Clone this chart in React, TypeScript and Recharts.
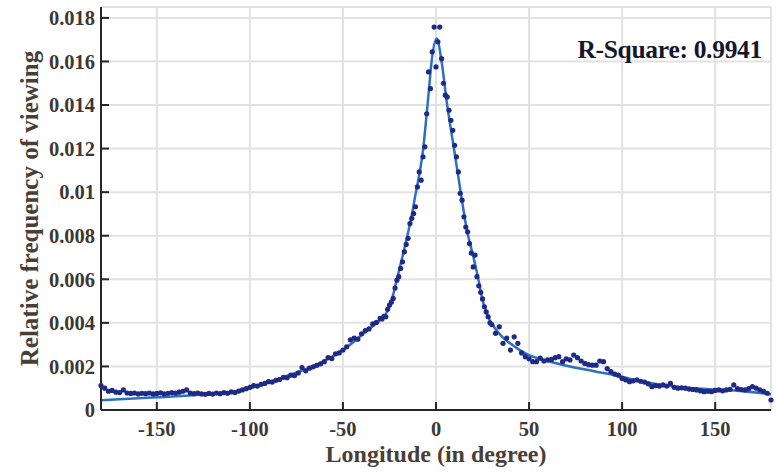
import React from 'react';
import { ComposedChart, Scatter, Line, XAxis, YAxis, CartesianGrid, Label } from 'recharts';

// Longitude bins: 2° in the tails, 1° around the front direction
const range = (start: number, end: number, step: number): number[] => {
  const out: number[] = [];
  for (let v = start; v <= end; v += step) out.push(v);
  return out;
};
const westLon = range(-180, -32, 2);
const coreLon = range(-30, 30, 1);
const eastLon = range(32, 180, 2);

// Measured relative frequency of viewing per bin
const westTail = [
  0.00112, 0.00100, 0.00086, 0.00090, 0.00082, 0.00080, 0.00092, 0.00078, 0.00076, 0.00078,
  0.00074, 0.00077, 0.00075, 0.00078, 0.00074, 0.00076, 0.00079, 0.00074, 0.00077, 0.00080,
  0.00078, 0.00082, 0.00086, 0.00092, 0.00078, 0.00075, 0.00078, 0.00074, 0.00072, 0.00076,
  0.00073, 0.00078, 0.00075, 0.00080, 0.00077, 0.00083, 0.00080, 0.00087, 0.00092, 0.00098,
  0.00104, 0.00112, 0.00110, 0.00118, 0.00122, 0.00130, 0.00128, 0.00136, 0.00140, 0.00150,
  0.00148, 0.00160, 0.00158, 0.00170, 0.00195, 0.00180, 0.00192, 0.00198, 0.00205, 0.00212,
  0.00222, 0.00240, 0.00236, 0.00258, 0.00262, 0.00275, 0.00290, 0.00322, 0.00330, 0.00325,
  0.00350, 0.00365, 0.00372, 0.00395, 0.00402,
];
const core = [
  0.00421, 0.00418, 0.00430, 0.00428, 0.00462, 0.00482, 0.00495, 0.00512, 0.00560, 0.00596,
  0.00612, 0.00650, 0.00680, 0.00726, 0.00760, 0.00788, 0.00856, 0.00880, 0.00902, 0.00933,
  0.01024, 0.01093, 0.01055, 0.01162, 0.01208, 0.01360, 0.01552, 0.01475, 0.01644, 0.01758,
  0.01575, 0.01690, 0.01758, 0.01613, 0.01500, 0.01445, 0.01437, 0.01376, 0.01330, 0.01284,
  0.01215, 0.01162, 0.01093, 0.00995, 0.00963, 0.00887, 0.00840, 0.00818, 0.00764, 0.00720,
  0.00657, 0.00711, 0.00612, 0.00570, 0.00540, 0.00510, 0.00474, 0.00450, 0.00428, 0.00400,
  0.00392,
];
const eastTail = [
  0.00352, 0.00382, 0.00306, 0.00330, 0.00275, 0.00336, 0.00306, 0.00262, 0.00245, 0.00235,
  0.00222, 0.00222, 0.00238, 0.00225, 0.00230, 0.00232, 0.00240, 0.00245, 0.00222, 0.00235,
  0.00230, 0.00252, 0.00240, 0.00225, 0.00214, 0.00208, 0.00206, 0.00206, 0.00225, 0.00222,
  0.00190, 0.00176, 0.00165, 0.00160, 0.00145, 0.00138, 0.00130, 0.00134, 0.00138, 0.00132,
  0.00128, 0.00120, 0.00107, 0.00112, 0.00110, 0.00115, 0.00110, 0.00122, 0.00104, 0.00100,
  0.00102, 0.00100, 0.00096, 0.00094, 0.00092, 0.00088, 0.00084, 0.00086, 0.00084, 0.00090,
  0.00092, 0.00088, 0.00092, 0.00095, 0.00115, 0.00098, 0.00094, 0.00092, 0.00098, 0.00107,
  0.00100, 0.00092, 0.00086, 0.00077, 0.00046,
];

// Fitted curve
const fitLon = [
  -180, -165, -150, -135, -120, -110, -100, -90, -80, -70, -60, -50, -45, -40, -35, -30,
  -27, -25, -23, -21, -19, -17, -15, -13, -11, -9, -7, -5, -4, -2.5, 0.4, 3, 6, 9, 12, 14,
  16.5, 19, 21, 23, 25, 27, 29, 32, 36, 40, 45, 50, 60, 72, 85, 97, 110, 129, 147, 165, 180,
];
const fitValue = [
  0.00045, 0.00052, 0.00058, 0.00065, 0.00074, 0.00083, 0.00100, 0.00127, 0.00157, 0.00188,
  0.00226, 0.00275, 0.00308, 0.00343, 0.00378, 0.00413, 0.00440, 0.00475, 0.00530, 0.00600,
  0.00670, 0.00740, 0.00815, 0.00895, 0.00990, 0.01080, 0.01190, 0.01360, 0.01450, 0.01590,
  0.01705, 0.01600, 0.01400, 0.01235, 0.01070, 0.00960, 0.00830, 0.00740, 0.00670, 0.00590,
  0.00505, 0.00450, 0.00410, 0.00372, 0.00332, 0.00305, 0.00275, 0.00252, 0.00225, 0.00200,
  0.00178, 0.00158, 0.00132, 0.00107, 0.00095, 0.00086, 0.00072,
];

const xTicks = [-150, -100, -50, 0, 50, 100, 150];
const yTicks = [0, 0.002, 0.004, 0.006, 0.008, 0.01, 0.012, 0.014, 0.016, 0.018];
const rSquare = '0.9941';

const observed = [
  ...westLon.map((lon, i) => ({ lon, freq: westTail[i] })),
  ...coreLon.map((lon, i) => ({ lon, freq: core[i] })),
  ...eastLon.map((lon, i) => ({ lon, freq: eastTail[i] })),
];
const fitted = fitLon.map((lon, i) => ({ lon, freq: fitValue[i] }));

const SERIF = '"Liberation Serif", "Times New Roman", serif';
const tickStyle = { fontFamily: SERIF, fontWeight: 700, fontSize: 20.5, fill: '#3d3833' };
const titleColor = '#4a3f36';
const axisColor = '#262626';

const fmtY = (v: number) => String(Number(v.toFixed(3)));

const XTitle = (props: any) => {
  const vb = props.viewBox || {};
  return (
    <text
      x={vb.x + vb.width / 2}
      y={vb.y + 52}
      textAnchor="middle"
      fontFamily={SERIF}
      fontWeight={700}
      fontSize={24}
      fill={titleColor}
    >
      Longitude (in degree)
    </text>
  );
};

const YTitle = (props: any) => {
  const vb = props.viewBox || {};
  const cx = vb.x + 38;
  const cy = vb.y + vb.height / 2;
  return (
    <text
      x={cx}
      y={cy}
      transform={`rotate(-90, ${cx}, ${cy})`}
      textAnchor="middle"
      fontFamily={SERIF}
      fontWeight={700}
      fontSize={25}
      fill={titleColor}
    >
      Relative frequency of viewing
    </text>
  );
};

const Dot = (p: any) => <circle cx={p.cx} cy={p.cy} r={2.6} fill="#1e2a86" />;

export default function App() {
  return (
    <div style={{ position: 'absolute', left: 0, top: 0, width: 776, height: 472, background: '#fff' }}>
      <ComposedChart width={776} height={472} margin={{ top: 7, right: 5, bottom: 0, left: 0 }}>
        <CartesianGrid stroke="#e2e2e2" strokeWidth={2} />
        <XAxis
          xAxisId={0}
          dataKey="lon"
          type="number"
          domain={[-180, 180]}
          ticks={xTicks}
          height={62}
          tick={tickStyle}
          tickSize={-8}
          tickMargin={19}
          axisLine={{ stroke: axisColor, strokeWidth: 2 }}
          tickLine={{ stroke: axisColor, strokeWidth: 2 }}
        >
          <Label content={<XTitle />} />
        </XAxis>
        <XAxis
          xAxisId="top"
          orientation="top"
          dataKey="lon"
          type="number"
          domain={[-180, 180]}
          ticks={xTicks}
          height={0}
          tick={false}
          tickSize={-8}
          axisLine={{ stroke: axisColor, strokeWidth: 2 }}
          tickLine={{ stroke: axisColor, strokeWidth: 2 }}
        />
        <YAxis
          yAxisId={0}
          type="number"
          domain={[0, 0.0185]}
          ticks={yTicks}
          width={101}
          tick={tickStyle}
          tickFormatter={fmtY}
          tickSize={-8}
          tickMargin={14}
          axisLine={{ stroke: axisColor, strokeWidth: 2 }}
          tickLine={{ stroke: axisColor, strokeWidth: 2 }}
        >
          <Label content={<YTitle />} />
        </YAxis>
        <YAxis
          yAxisId="right"
          orientation="right"
          type="number"
          domain={[0, 0.0185]}
          ticks={yTicks}
          width={0}
          tick={false}
          tickSize={-8}
          axisLine={{ stroke: axisColor, strokeWidth: 2 }}
          tickLine={{ stroke: axisColor, strokeWidth: 2 }}
        />
        <Scatter
          data={observed}
          dataKey="freq"
          xAxisId={0}
          yAxisId={0}
          shape={Dot}
          isAnimationActive={false}
        />
        <Line
          data={fitted}
          dataKey="freq"
          xAxisId={0}
          yAxisId={0}
          type="monotone"
          stroke="#2c70c2"
          strokeWidth={2.5}
          dot={false}
          activeDot={false}
          isAnimationActive={false}
        />
      </ComposedChart>
      <div
        style={{
          position: 'absolute',
          right: 14,
          top: 37,
          fontFamily: SERIF,
          fontWeight: 700,
          fontSize: 25.5,
          lineHeight: '25px',
          color: '#16162a',
          letterSpacing: '-0.3px',
          whiteSpace: 'nowrap',
        }}
      >
        R-Square: {rSquare}
      </div>
    </div>
  );
}
